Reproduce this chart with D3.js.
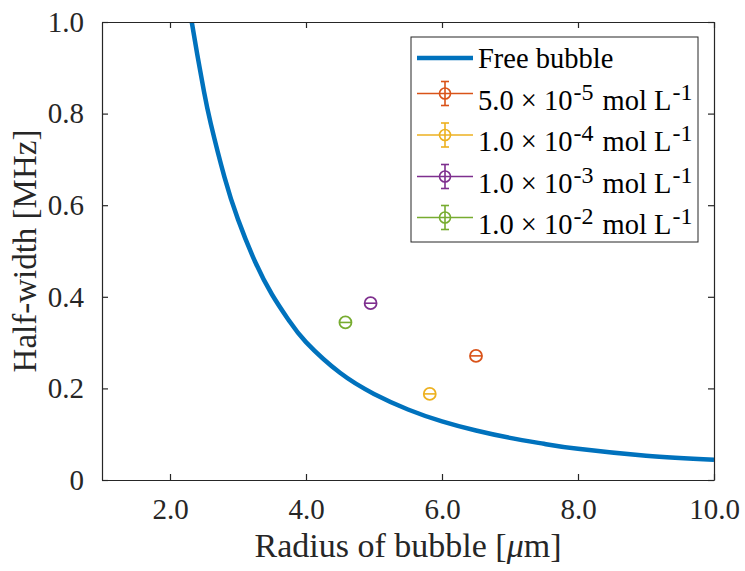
<!DOCTYPE html>
<html>
<head>
<meta charset="utf-8">
<script src="https://cdn.jsdelivr.net/npm/d3@7"></script>
<style>
body { margin: 0; background: #fff; }
text { font-family: "Liberation Serif", "Times New Roman", serif; }
</style>
</head>
<body>
<svg id="chart" width="745" height="571"></svg>
<script>
// free bubble curve
var radius = [2.32, 2.4, 2.5, 2.6, 2.8, 3.0, 3.25, 3.5, 3.75, 4.0, 4.5, 5.0, 5.5, 6.0, 6.5, 7.0, 7.5, 8.0, 9.0, 10.0];
var halfWidth = [1.0, 0.93, 0.848, 0.778, 0.662, 0.569, 0.477, 0.405, 0.348, 0.301, 0.234, 0.188, 0.154, 0.128, 0.108, 0.092, 0.079, 0.068, 0.053, 0.044];

// measured points
var labels = [["5.0", "-5"], ["1.0", "-4"], ["1.0", "-3"], ["1.0", "-2"]];
var ptRadius = [6.50, 5.82, 4.95, 4.58];
var ptWidth = [0.271, 0.188, 0.386, 0.344];
var ptRadiusErr = [0.09, 0.09, 0.09, 0.09];
var colors = ["#D95319", "#EDB120", "#7E2F8E", "#77AC30"];

var xTicks = [2, 4, 6, 8, 10];
var yTicks = [0, 0.2, 0.4, 0.6, 0.8, 1.0];

var pLeft = 102, pRight = 714, pTop = 22, pBottom = 480;
var axisColor = "#262626";

var svg = d3.select("#chart");

var x = d3.scaleLinear().domain([1, 10]).range([pLeft, pRight]);
var y = d3.scaleLinear().domain([0, 1]).range([pBottom, pTop]);

svg.append("clipPath").attr("id", "clip")
    .append("rect")
    .attr("x", pLeft).attr("y", pTop)
    .attr("width", pRight - pLeft).attr("height", pBottom - pTop);

var curve = radius.map(function(r, i) { return [r, halfWidth[i]]; });
var line = d3.line()
    .x(function(d) { return x(d[0]); })
    .y(function(d) { return y(d[1]); })
    .curve(d3.curveNatural);

svg.append("path")
    .datum(curve)
    .attr("clip-path", "url(#clip)")
    .attr("d", line)
    .attr("fill", "none")
    .attr("stroke", "#0072BD")
    .attr("stroke-width", 4.5);

var pts = svg.selectAll("g.pt")
    .data(ptRadius)
    .enter()
    .append("g")
    .attr("class", "pt");

pts.append("line")
    .attr("x1", function(d, i) { return x(d - ptRadiusErr[i]); })
    .attr("x2", function(d, i) { return x(d + ptRadiusErr[i]); })
    .attr("y1", function(d, i) { return y(ptWidth[i]); })
    .attr("y2", function(d, i) { return y(ptWidth[i]); })
    .attr("stroke", function(d, i) { return colors[i]; })
    .attr("stroke-width", 1.6);

pts.append("circle")
    .attr("cx", function(d) { return x(d); })
    .attr("cy", function(d, i) { return y(ptWidth[i]); })
    .attr("r", 6)
    .attr("fill", "none")
    .attr("stroke", function(d, i) { return colors[i]; })
    .attr("stroke-width", 1.8);

// axes with box, ticks inward
svg.append("g").attr("transform", "translate(0," + pBottom + ")")
    .call(d3.axisBottom(x).tickValues(xTicks).tickSizeInner(-6).tickSizeOuter(0).tickPadding(18)
        .tickFormat(d3.format(".1f")));
svg.append("g").attr("transform", "translate(0," + pTop + ")")
    .call(d3.axisTop(x).tickValues(xTicks).tickSizeInner(-6).tickSizeOuter(0).tickFormat(""));
svg.append("g").attr("transform", "translate(" + pLeft + ",0)")
    .call(d3.axisLeft(y).tickValues(yTicks).tickSizeInner(-6).tickSizeOuter(0).tickPadding(18)
        .tickFormat(function(d) { return d === 0 ? "0" : d3.format(".1f")(d); }));
svg.append("g").attr("transform", "translate(" + pRight + ",0)")
    .call(d3.axisRight(y).tickValues(yTicks).tickSizeInner(-6).tickSizeOuter(0).tickFormat(""));

svg.selectAll("g").attr("font-family", "'Liberation Serif', serif");
svg.selectAll(".domain, .tick line").attr("stroke", axisColor).attr("stroke-width", 1.2);
svg.selectAll(".tick text")
    .attr("fill", axisColor)
    .style("font-size", "29px");

var xt = svg.append("text")
    .attr("x", (pLeft + pRight) / 2)
    .attr("y", 557)
    .attr("text-anchor", "middle")
    .attr("fill", axisColor)
    .style("font-size", "34px");
xt.append("tspan").text("Radius of bubble [");
xt.append("tspan").style("font-style", "italic").text("\u03bc");
xt.append("tspan").text("m]");

svg.append("text")
    .attr("transform", "translate(36," + ((pTop + pBottom) / 2) + ") rotate(-90)")
    .attr("text-anchor", "middle")
    .attr("fill", axisColor)
    .style("font-size", "33px")
    .text("Half-width [MHz]");

// legend
var lg = svg.append("g");
lg.append("rect")
    .attr("x", 411).attr("y", 37)
    .attr("width", 287).attr("height", 205)
    .attr("fill", "#fff")
    .attr("stroke", axisColor)
    .attr("stroke-width", 1);

var rowY = [58, 93.5, 135, 176.5, 217.5];
var sx1 = 417, sx2 = 473, tx = 478;

lg.append("line")
    .attr("x1", sx1).attr("x2", sx2)
    .attr("y1", rowY[0]).attr("y2", rowY[0])
    .attr("stroke", "#0072BD").attr("stroke-width", 4.5);
lg.append("text")
    .attr("x", tx).attr("y", rowY[0] + 10)
    .style("font-size", "28.5px")
    .text("Free bubble");

var rows = lg.selectAll("g.row")
    .data(labels)
    .enter()
    .append("g")
    .attr("class", "row")
    .attr("transform", function(d, i) { return "translate(0," + rowY[i + 1] + ")"; });

rows.append("line")
    .attr("x1", sx1).attr("x2", sx2)
    .attr("stroke", function(d, i) { return colors[i]; })
    .attr("stroke-width", 1.6);
rows.append("line")
    .attr("x1", 445).attr("x2", 445).attr("y1", -12).attr("y2", 12)
    .attr("stroke", function(d, i) { return colors[i]; })
    .attr("stroke-width", 1.6);
rows.append("line")
    .attr("x1", 441).attr("x2", 449).attr("y1", -12).attr("y2", -12)
    .attr("stroke", function(d, i) { return colors[i]; })
    .attr("stroke-width", 1.6);
rows.append("line")
    .attr("x1", 441).attr("x2", 449).attr("y1", 12).attr("y2", 12)
    .attr("stroke", function(d, i) { return colors[i]; })
    .attr("stroke-width", 1.6);
rows.append("circle")
    .attr("cx", 445).attr("r", 5.5)
    .attr("fill", "none")
    .attr("stroke", function(d, i) { return colors[i]; })
    .attr("stroke-width", 1.6);

var lt = rows.append("text")
    .attr("x", tx).attr("y", 16)
    .style("font-size", "28.5px");
lt.append("tspan").text(function(d) { return d[0] + " \u00d7 10"; });
lt.append("tspan").attr("dx", 1).attr("dy", -10).style("font-size", "24px").text(function(d) { return d[1]; });
lt.append("tspan").attr("dx", 2).attr("dy", 10).text(" mol L");
lt.append("tspan").attr("dx", 1).attr("dy", -10).style("font-size", "24px").text("-1");
</script>
</body>
</html>
